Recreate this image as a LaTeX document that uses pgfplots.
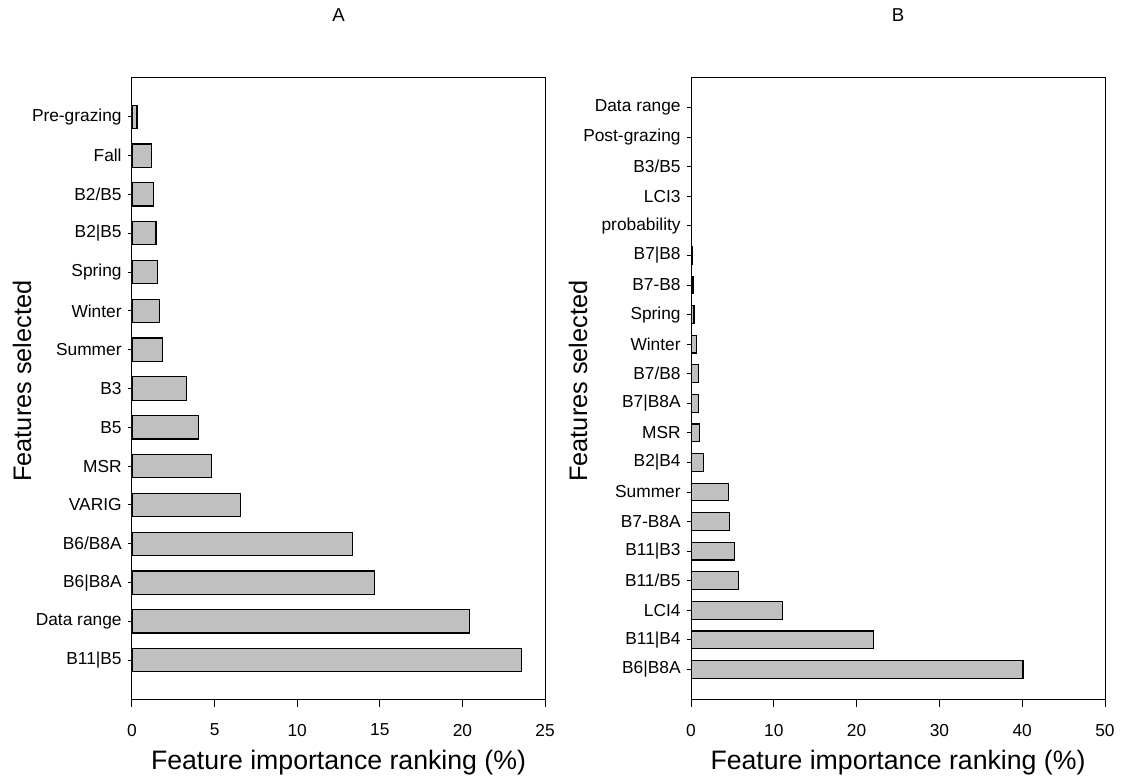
\documentclass[border=0pt]{standalone}
\usepackage{fontspec}
\setmainfont{Liberation Sans}
\usepackage{pgfplots}
\pgfplotsset{compat=1.18}

\definecolor{barfill}{RGB}{192,192,192}

\pgfplotsset{
  rankbars/.style={
    xbar,
    scale only axis,
    height=465.75pt,
    xmin=0,
    ymin=-1,
    bar width=0.6,
    axis line style={line width=0.75pt},
    tick style={black, line width=0.75pt},
    xtick pos=bottom, ytick pos=left,
    tick align=outside,
    xtick style={/pgfplots/major tick length=6pt},
    ytick style={/pgfplots/major tick length=3pt},
    /pgf/number format/assume math mode=true,
    yticklabel style={font=\fontsize{13}{15}\selectfont},
    xticklabel style={font=\fontsize{13}{15}\selectfont, yshift=-11pt},
    xlabel={Feature importance ranking (\%)},
    ylabel={Features selected},
    every axis title/.style={font=\fontsize{14}{16}\selectfont, at={(axis description cs:0.5,1)}, anchor=center, yshift=47.25pt},
    every axis x label/.style={font=\fontsize{20}{24}\selectfont, at={(axis description cs:0.5,0)}, anchor=center, yshift=-48pt},
  },
  bardraw/.style={fill=barfill, draw=black, line width=0.9pt},
}

\begin{document}
\begin{tikzpicture}
\useasboundingbox (0,0) rectangle (840.75pt,587.25pt);

% Panel A
\begin{axis}[rankbars,
  at={(99pt,63pt)}, anchor=south west,
  width=309.75pt,
  xmax=25, xtick={0,5,10,15,20,25},
  ymax=15,
  ytick={0,...,14},
  yticklabels={B11|B5,Data range,B6|B8A,B6/B8A,VARIG,MSR,B5,B3,Summer,Winter,Spring,B2|B5,B2/B5,Fall,Pre-grazing},
  every axis y label/.style={font=\fontsize{19}{23}\selectfont, at={(axis description cs:-0.2663,0.512)}, rotate=90, anchor=center},
  title={A},
]
\addplot[bardraw] coordinates {
  (23.57,0) (20.45,1) (14.68,2) (13.35,3) (6.55,4) (4.80,5) (4.01,6) (3.29,7)
  (1.86,8) (1.65,9) (1.53,10) (1.45,11) (1.31,12) (1.19,13) (0.30,14)
};
\end{axis}

% Panel B
\begin{axis}[rankbars,
  at={(518.25pt,63pt)}, anchor=south west,
  width=310.5pt,
  xmax=50, xtick={0,10,20,30,40,50},
  ymax=20,
  ytick={0,...,19},
  yticklabels={B6|B8A,B11|B4,LCI4,B11/B5,B11|B3,B7-B8A,Summer,B2|B4,MSR,B7|B8A,B7/B8,Winter,Spring,B7-B8,B7|B8,probability,LCI3,B3/B5\ ,Post-grazing,Data range},
  every axis y label/.style={font=\fontsize{19}{23}\selectfont, at={(axis description cs:-0.273,0.512)}, rotate=90, anchor=center},
  title={B},
]
\addplot[bardraw] coordinates {
  (40.10,0) (22.08,1) (11.04,2) (5.72,3) (5.27,4) (4.67,5) (4.55,6) (1.52,7)
  (1.04,8) (0.92,9) (0.92,10) (0.68,11) (0.36,12) (0.24,13) (0.12,14)
  (0.08,15) (0.08,16) (0,17) (0,18) (0,19)
};
\end{axis}
\end{tikzpicture}
\end{document}
